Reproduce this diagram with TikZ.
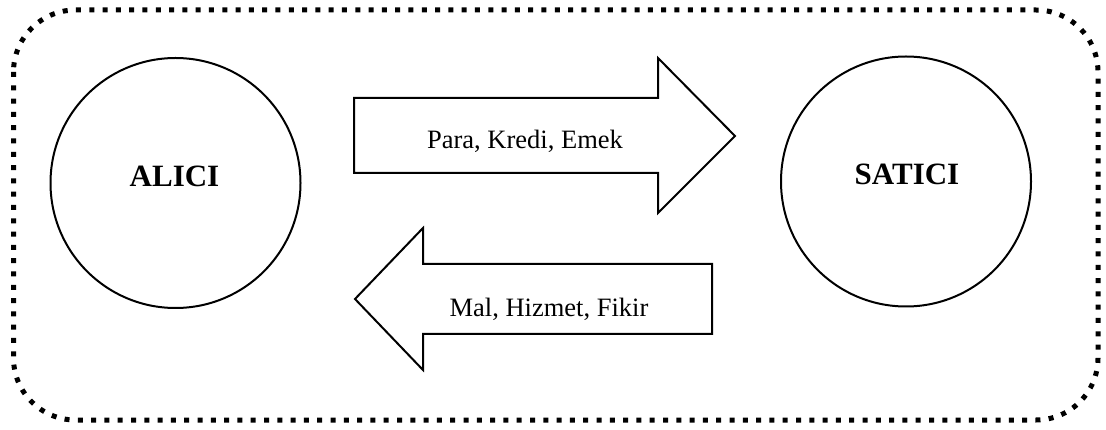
\documentclass[tikz,border=0pt]{standalone}
\usepackage{fontspec}
\setmainfont{Liberation Serif}
\begin{document}
\begin{tikzpicture}[x=1pt,y=-1pt,
  frame/.style={line width=5pt,dash pattern=on 5pt off 8.3pt,rounded corners=62pt},
  party/.style={draw,line width=2pt,circle,minimum size=250pt,inner sep=0pt},
  partylabel/.style={font=\fontsize{31}{31}\selectfont\bfseries,anchor=base},
  blockarrow/.style={draw,line width=2pt,line join=miter},
  flowlabel/.style={font=\fontsize{26.5}{26.5}\selectfont,anchor=base}]
\useasboundingbox (0,0) rectangle (1106,430);
\draw[frame] (13.5,10) rectangle (1098,420);
\node[party] (alici) at (175.5,183) {};
\node[partylabel] (alicitext) at (174.5,186.7) {ALICI};
\node[party] (satici) at (906,181.5) {};
\node[partylabel] (saticitext) at (907,185) {SATICI};
\draw[blockarrow] (354,98) -- (658,98) -- (658,58) -- (735,136) -- (658,213) -- (658,173) -- (354,173) -- cycle;
\node[flowlabel] (para) at (525,148.3) {Para, Kredi, Emek};
\draw[blockarrow] (712,264) -- (423,264) -- (423,228) -- (355,299) -- (423,370) -- (423,334) -- (712,334) -- cycle;
\node[flowlabel] (mal) at (549,316.7) {Mal, Hizmet, Fikir};
\end{tikzpicture}
\end{document}
